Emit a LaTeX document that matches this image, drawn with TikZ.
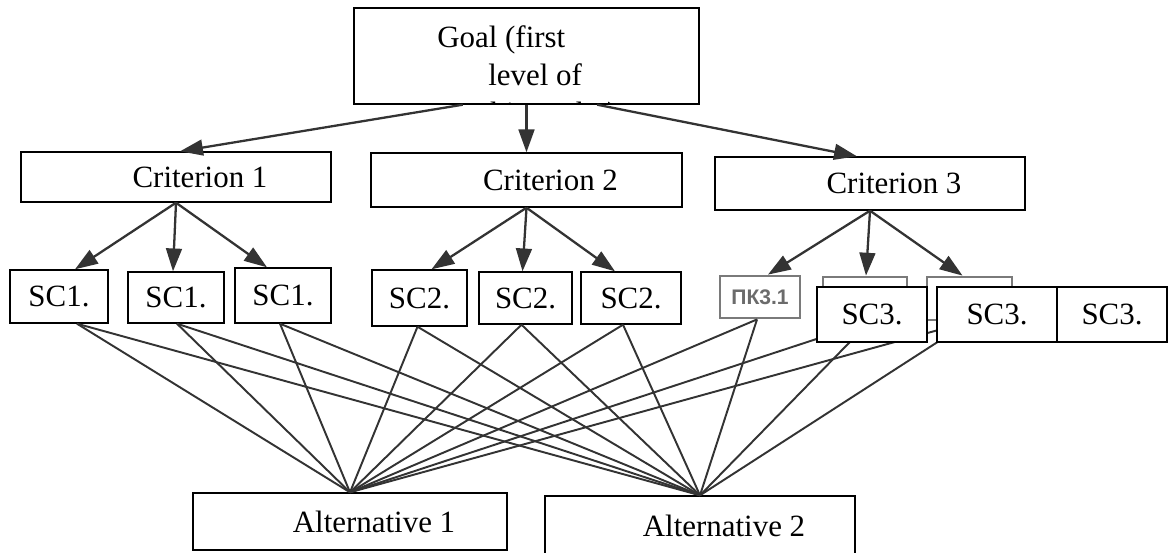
\documentclass[tikz,border=0pt]{standalone}
\usepackage{fontspec}
\setmainfont{Liberation Serif}
\newfontfamily\cyrsans{Liberation Sans}
\usetikzlibrary{arrows.meta,calc}
\definecolor{lineC}{HTML}{333333}
\definecolor{scanC}{HTML}{7A7A7A}
\tikzset{
  sz/.style 2 args={minimum width=#1*0.02cm, minimum height=#2*0.02cm},
  box/.style={draw=black, line width=0.8pt, fill=white, inner sep=0pt,
              font=\fontsize{17.6}{21.5}\selectfont},
  shifted/.style={execute at begin node={\hspace*{0.96cm}}},
  oldbox/.style={draw=scanC, line width=1.6pt, fill=white, inner sep=0pt,
                 text=black!58, font=\cyrsans\bfseries\fontsize{12}{14}\selectfont},
  newbox/.style={box, line width=1.1pt},
  goaltext/.style={inner sep=0pt, anchor=base west,
                   font=\fontsize{17.6}{21.5}\selectfont},
  arr/.style={-{Triangle[length=13pt,width=9pt]}, lineC, line width=1.3pt},
  link/.style={lineC, line width=1.1pt},
}

\begin{document}
\begin{tikzpicture}[x=0.02cm, y=-0.02cm]
  \useasboundingbox (0,0) rectangle (1169,552);

  % Goal (top level)
  \node[box, sz={345}{96}] (goal) at (526.5,56) {};
  \node[goaltext] (goal1) at (437,47) {Goal (first};
  \node[goaltext] (goal2) at (488,85) {level of};
  \begin{scope}
    \clip (goal.south west) rectangle (goal.north east);
    \node[goaltext] (goal3) at (490,123) {hierarchy)};
  \end{scope}

  % Criteria
  \node[box, shifted, sz={310}{50}] (crit1) at (176,177) {Criterion 1};
  \node[box, shifted, sz={311}{54}] (crit2) at (526.5,180) {Criterion 2};
  \node[box, shifted, sz={310}{53}] (crit3) at (870,183.5) {Criterion 3};

  % Sub-criteria
  \node[box, sz={98}{53}]  (sc11) at (59,296.5)   {SC1.};
  \node[box, sz={96}{51}]  (sc12) at (176,297.5)  {SC1.};
  \node[box, sz={96}{55}]  (sc13) at (283,295.5)  {SC1.};
  \node[box, sz={95}{56}]  (sc21) at (419.5,298)  {SC2.};
  \node[box, sz={93}{52}]  (sc22) at (525.5,298)  {SC2.};
  \node[box, sz={100}{52}] (sc23) at (631,298)    {SC2.};
  \node[oldbox, sz={80}{42}] (pk31) at (760,297)   {ПК3.1};
  \node[oldbox, sz={84}{43}] (pk32) at (865,298.5) {};
  \node[oldbox, sz={85}{43}] (pk33) at (969.5,298.5) {};

  % Alternatives
  \node[box, shifted, sz={314}{57}] (alt1) at (350,521.5) {Alternative 1};
  \node[box, shifted, sz={310}{60}] (alt2) at (700,526)   {Alternative 2};

  % Goal -> criteria
  \draw[arr] ($(goal.south west)!0.316!(goal.south east)$)
    -- ($(crit1.north west)!0.513!(crit1.north east)$);
  \draw[arr] (goal.south) -- (crit2.north);
  \draw[arr] ($(goal.south west)!0.704!(goal.south east)$)
    -- ($(crit3.north west)!0.458!(crit3.north east)$);

  % Criteria -> sub-criteria
  \foreach \c/\b/\dx in {crit1/sc11/16, crit1/sc12/-3, crit1/sc13/-16,
                         crit2/sc21/12, crit2/sc22/-3, crit2/sc23/-16,
                         crit3/pk31/8, crit3/pk32/1, crit3/pk33/-7}
    \draw[arr] (\c.south) -- ([xshift=\dx*0.02cm]\b.north);

  % Sub-criteria -> alternatives
  \foreach \b/\dx in {sc11/18, sc12/1, sc13/-3, sc21/-2, sc22/-4,
                      sc23/-8, pk31/-3, pk32/5, pk33/0}{
    \draw[link] ([xshift=\dx*0.02cm]\b.south) -- (alt1.north);
    \draw[link] ([xshift=\dx*0.02cm]\b.south) -- (alt2.north);
  }

  % SC3 boxes laid over
  \node[newbox, sz={110}{55}] (sc31) at (872,314.5)  {SC3.};
  \node[newbox, sz={120}{55}] (sc32) at (997,314.5)  {SC3.};
  \node[newbox, sz={110}{55}] (sc33) at (1112,314.5) {SC3.};
\end{tikzpicture}
\end{document}
